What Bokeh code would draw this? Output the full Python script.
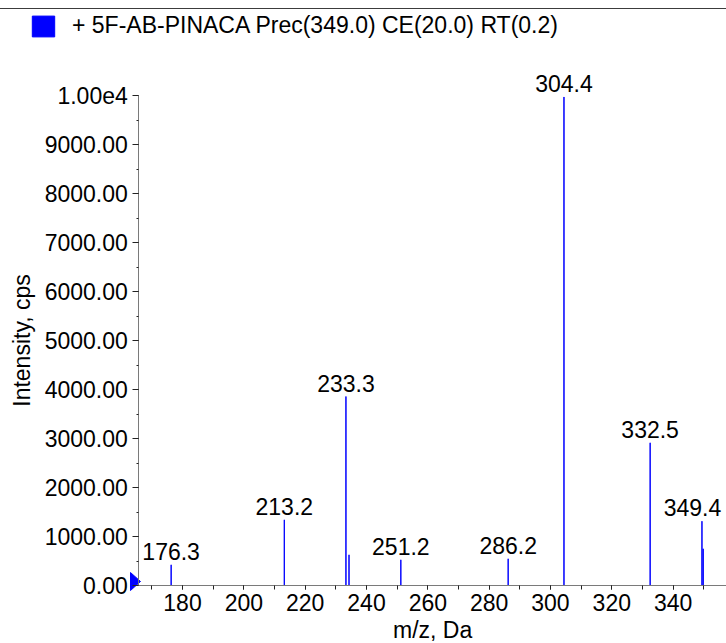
from bokeh.plotting import figure
from bokeh.models import (ColumnDataSource, LabelSet, Label, Legend, LegendItem, SingleIntervalTicker,
                          NumeralTickFormatter, Range1d, InlineStyleSheet)
from bokeh.core.properties import value
from bokeh.embed import file_html
from bokeh.resources import INLINE

# ---- data ----
mz = [176.3, 213.2, 233.3, 234.3, 251.2, 286.2, 304.4, 332.5, 349.4, 349.8]
intensity = [422, 1340, 3857, 626, 524, 545, 9970, 2912, 1312, 749]
peak_labels = ["176.3", "213.2", "233.3", "", "251.2", "286.2", "304.4", "332.5", "349.4", ""]
series_name = "+ 5F-AB-PINACA Prec(349.0) CE(20.0) RT(0.2)"
x_title = "m/z, Da"
y_title = "Intensity, cps"
axis_x = 165.75          # m/z where the intensity axis sits
x_end = 357.4
y_start, y_end = 0, 10000

FONT = "Liberation Sans"
FSPX = 23
FS = f"{FSPX}px"
BLUE = "#0000ff"

W, H = 726, 643
AX_LEFT = 138.3          # px from left where the intensity axis is drawn
AX_TOP = 95.0            # px from top of intensity 1.00e4
AX_BOTTOM = 585.0        # px from top of intensity 0

px_x = (x_end - axis_x) / (W - AX_LEFT)
px_y = (y_end - y_start) / (AX_BOTTOM - AX_TOP)
xr = Range1d(axis_x - AX_LEFT * px_x, x_end)
yr = Range1d(y_start - (H - AX_BOTTOM) * px_y, y_end + AX_TOP * px_y)

p = figure(width=W, height=H, output_backend="svg", toolbar_location=None,
           x_range=xr, y_range=yr,
           min_border_left=0, min_border_right=0, min_border_top=0, min_border_bottom=0,
           background_fill_color=None, border_fill_color=None)
p.outline_line_color = None
p.grid.grid_line_color = None
# thin dark rule across the top of the chart
p.stylesheets = [InlineStyleSheet(css=(
    ":host { background: linear-gradient(to bottom, #ffffff 0px, #ffffff 8px, "
    "#3c3c3c 8px, #3c3c3c 9px, #ffffff 9px, #ffffff 100%); }"))]

src = ColumnDataSource(dict(mz=mz, intensity=intensity))
r = p.vbar(x="mz", top="intensity", width=0.01, source=src,
           fill_color=BLUE, line_color=BLUE, line_width=1)

lab_mz = [m for m, t in zip(mz, peak_labels) if t]
lab_int = [i for i, t in zip(intensity, peak_labels) if t]
lab_txt = [t for t in peak_labels if t]


def keep_inside(m, t):
    # nudge a label left just enough that it is not cut by the right edge
    half = 0.556 * FSPX * len(t) / 2
    right = (m - xr.start) / px_x + half
    return min(0.0, (W - 2) - right)


lab_dx = [keep_inside(m, t) for m, t in zip(lab_mz, lab_txt)]
lsrc = ColumnDataSource(dict(x=lab_mz, y=lab_int, t=lab_txt, dx=lab_dx))
p.add_layout(LabelSet(x="x", y="y", text="t", source=lsrc, y_offset=5, x_offset="dx",
                      text_align="center", text_baseline="bottom",
                      text_font=value(FONT), text_font_size=value(FS), text_color="black"))

# threshold marker at intensity 0, on the intensity axis
p.patch(x=[axis_x - 8.3 * px_x, axis_x + 1.7 * px_x, axis_x - 8.3 * px_x],
        y=[y_start + 13 * px_y, y_start + 4 * px_y, y_start - 5 * px_y],
        fill_color=BLUE, line_color=BLUE, line_width=1)

# axes
xa = p.xaxis[0]
xa.ticker = SingleIntervalTicker(interval=20, num_minor_ticks=2)
xa.fixed_location = y_start
xa.bounds = (axis_x, x_end)
ya = p.yaxis[0]
ya.ticker = SingleIntervalTicker(interval=1000, num_minor_ticks=2)
ya.formatter = NumeralTickFormatter(format="0.00")
ya.major_label_overrides = {10000: "1.00e4"}
ya.axis_label = y_title
ya.fixed_location = axis_x
ya.bounds = (y_start, y_end)
for ax in (xa, ya):
    ax.axis_line_color = "#7a7a7a"
    ax.major_tick_line_color = "#222222"
    ax.minor_tick_line_color = "#222222"
    ax.major_tick_in = 0
    ax.minor_tick_in = 0
    ax.major_label_text_font = FONT
    ax.major_label_text_font_size = FS
    ax.major_label_text_color = "black"
    ax.axis_label_text_font = FONT
    ax.axis_label_text_font_size = FS
    ax.axis_label_text_font_style = "normal"
    ax.axis_label_text_color = "black"
xa.major_tick_out = 4
xa.minor_tick_out = 4
xa.major_label_standoff = 4
ya.major_tick_out = 6
ya.minor_tick_out = 2
ya.major_label_standoff = 5
ya.axis_label_standoff = 6

# m/z axis title, centred under the m/z axis, kept inside the bottom edge
p.add_layout(Label(x=(axis_x + x_end) / 2, y=y_start - (H - 1 - AX_BOTTOM) * px_y, text=x_title,
                   text_align="center", text_baseline="bottom",
                   text_font=FONT, text_font_size=FS, text_color="black"))

# legend (series name) at the top-left
legend = Legend(items=[LegendItem(label=series_name, renderers=[r])],
                location=(29, H - 39), padding=0, margin=0, spacing=0,
                glyph_width=28, glyph_height=26, label_standoff=15,
                label_text_font=FONT, label_text_font_size=FS, label_text_color="black",
                background_fill_alpha=0, border_line_alpha=0)
p.add_layout(legend)

open("out.html", "w").write(file_html(p, INLINE))
